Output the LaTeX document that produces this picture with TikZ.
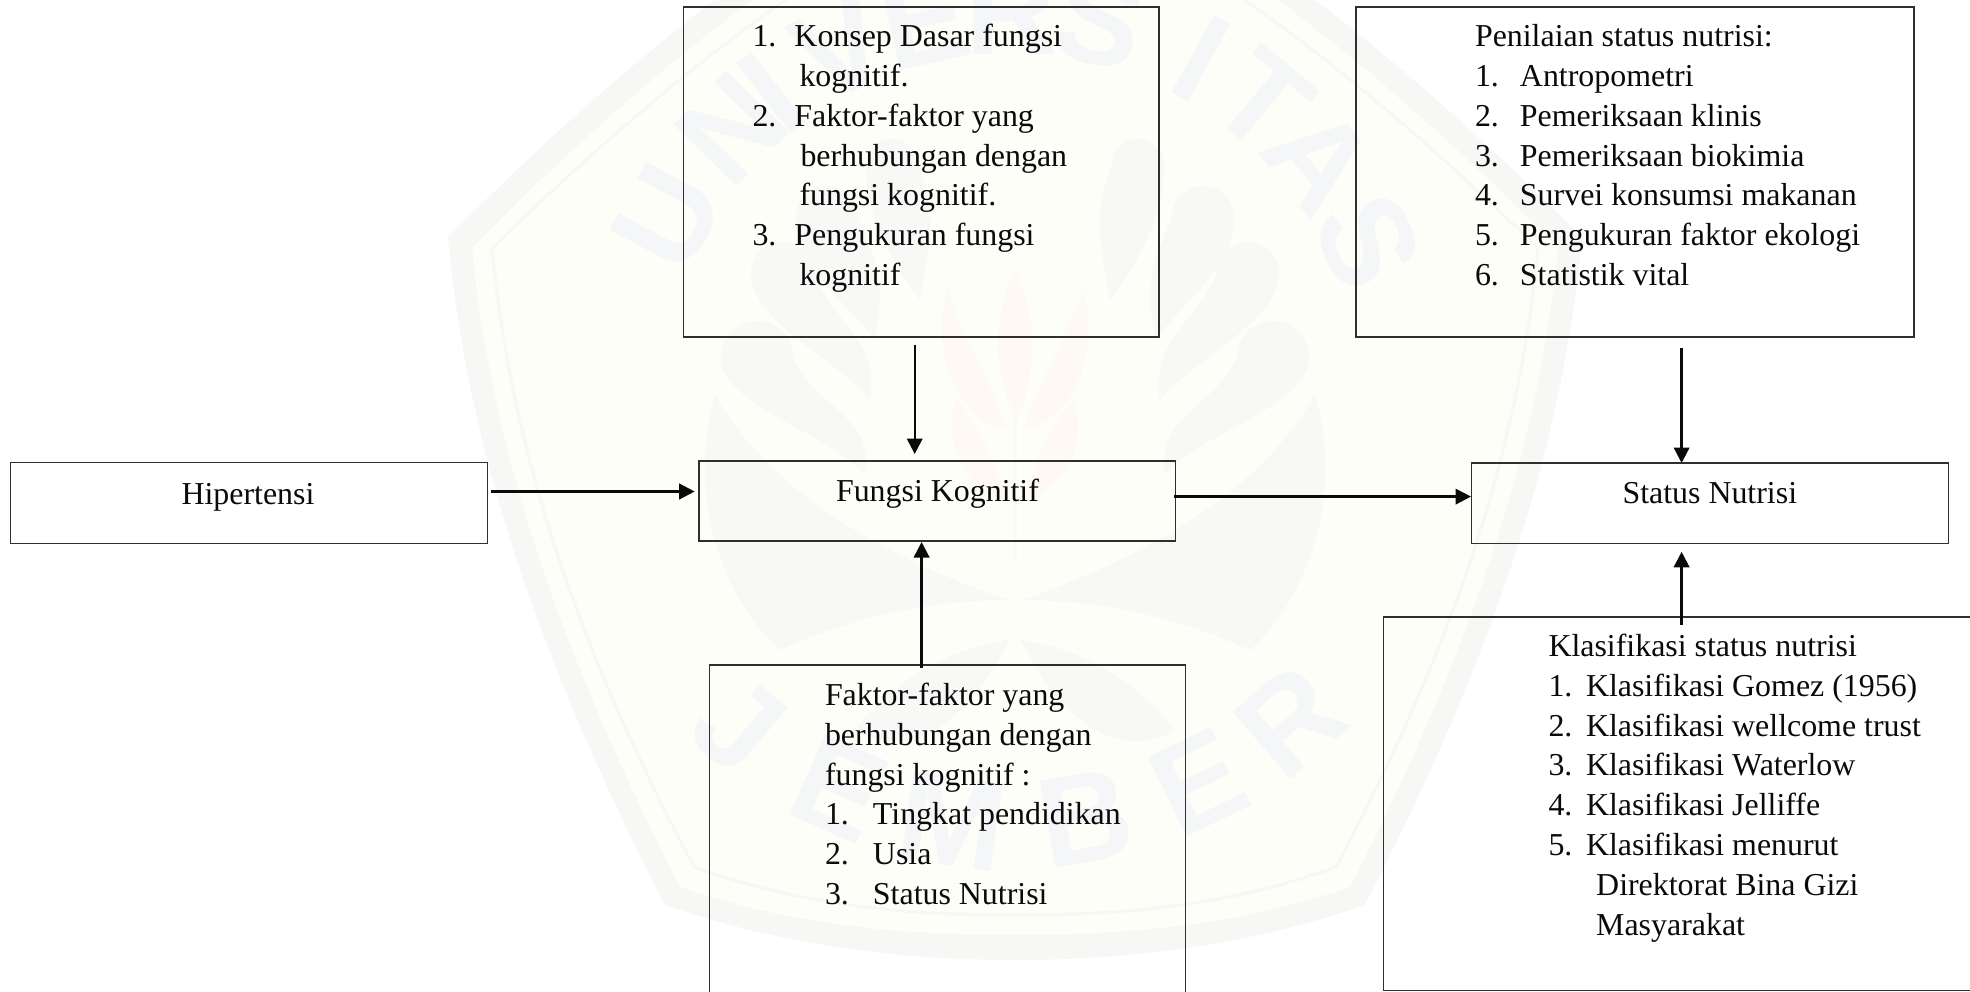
\documentclass[tikz,border=0pt]{standalone}
\usepackage{fontspec}
\setmainfont{Liberation Serif}
\newfontfamily\wmfont{Liberation Sans}
\usetikzlibrary{arrows.meta}
\definecolor{ink}{HTML}{0A0A0A}
\definecolor{shieldc}{HTML}{FDFEF8}
\definecolor{wmband}{HTML}{F7F8F6}
\definecolor{wmgrey}{HTML}{F5F6F7}
\definecolor{wmleaf}{HTML}{F8F9F7}
\definecolor{wmpink}{HTML}{FEF9F3}
\newcommand{\textsz}{\fontsize{31.9}{39.8}\selectfont}
\newcommand{\numb}[1]{\makebox[\numw][l]{#1}}
\newlength{\numw}
\tikzset{
  box/.style={draw=ink!85,line width=1.2pt,anchor=north west,inner sep=0pt,outer sep=0pt},
  lines/.style={anchor=base west,align=left,inner sep=0pt,outer sep=0pt,font=\textsz,text=ink},
  single/.style={anchor=base,inner sep=0pt,outer sep=0pt,font=\textsz,text=ink},
  arr/.style={draw=ink,line width=2.3pt,-{Triangle[length=15.5pt,width=15.5pt]}},
  wmletter/.style={text=wmgrey,inner sep=0pt,font=\wmfont\bfseries\fontsize{128}{130}\selectfont},
}
\begin{document}
\begin{tikzpicture}[x=1pt,y=-1pt]
\useasboundingbox (0,0) rectangle (1970,992);
\clip (0,0) rectangle (1970,992);
\fill[white] (0,0) rectangle (1970,992);
% watermark
\fill[wmband] (448,237) .. controls (600,85) and (800,-90) .. (1015,-180) .. controls (1230,-90) and (1430,85) .. (1582,237) .. controls (1560,480) and (1470,700) .. (1365,905) .. controls (1250,945) and (1130,960) .. (1015,960) .. controls (900,960) and (780,945) .. (665,905) .. controls (560,700) and (470,480) .. (448,237) -- cycle;
\fill[shieldc] (472,247) .. controls (625,95) and (810,-70) .. (1015,-150) .. controls (1220,-70) and (1405,95) .. (1558,247) .. controls (1536,480) and (1450,690) .. (1350,887) .. controls (1240,925) and (1130,935) .. (1015,935) .. controls (900,935) and (790,925) .. (680,887) .. controls (580,690) and (494,480) .. (472,247) -- cycle;
\draw[wmband,line width=3pt] (492,248) .. controls (640,105) and (820,-50) .. (1015,-125) .. controls (1210,-50) and (1390,105) .. (1538,248) .. controls (1516,480) and (1435,680) .. (1336,867) .. controls (1230,905) and (1130,915) .. (1015,915) .. controls (900,915) and (800,905) .. (694,867) .. controls (595,680) and (514,480) .. (492,248) -- cycle;
\foreach \a/\l [count=\i] in {-62/U,-46/N,-38/I,-26/V,-13/E,0/R,13/S,29/I,40/T,52/A,66/S}
  \node[wmletter,rotate=-\a] (wmt\i) at ({1012+390*sin(\a)},{400-390*cos(\a)}) {\l};
\foreach \a/\l [count=\i] in {-40/J,-24/E,-8/M,10/B,26/E,41/R}
  \node[wmletter,rotate=\a] (wmb\i) at ({1012+425*sin(\a)},{400+425*cos(\a)}) {\l};
% central plant
\draw[wmpink,line width=3pt] (1015,290) -- (1015,560);
\fill[wmpink] (1015,270) .. controls (1040,320) and (1035,380) .. (1017,420) .. controls (995,380) and (990,320) .. (1015,270) -- cycle;
\foreach \s in {1,-1}{
  \begin{scope}[shift={(1015,0)},xscale=\s]
    \fill[wmpink] (8,430) .. controls (25,380) and (50,340) .. (68,290) .. controls (85,350) and (60,420) .. (8,430) -- cycle;
    \fill[wmpink] (8,500) .. controls (25,450) and (40,420) .. (58,400) .. controls (75,440) and (50,490) .. (8,500) -- cycle;
    \foreach \hx/\hy/\tx/\ty/\r in {123/165/95/300/26, 188/217/140/340/31, 233/273/145/400/31, 258/357/150/475/36}{
      \fill[wmleaf] (\hx,\hy) circle[radius=\r];
      \fill[wmleaf] (\hx+\r,\hy) .. controls (\hx+\r,\hy+50) and (\tx+30,\ty-40) .. (\tx,\ty) .. controls (\tx-10,\ty-60) and (\hx-\r-20,\hy+50) .. (\hx-\r,\hy) -- cycle;
    }
    \fill[wmleaf] (8,600) .. controls (120,560) and (240,500) .. (300,395) .. controls (330,500) and (290,600) .. (235,650) .. controls (170,620) and (90,600) .. (8,600) -- cycle;
    \fill[wmleaf] (6,640) .. controls (70,650) and (120,680) .. (160,730) .. controls (110,760) and (50,730) .. (6,640) -- cycle;
  \end{scope}
}
% boxes
\node[box,minimum width=477pt,minimum height=80.6pt] (hip) at (10.4,462.7) {};
\node[box,minimum width=476.5pt,minimum height=80pt] (fk) at (699,461) {};
\node[box,minimum width=477pt,minimum height=80.5pt] (st) at (1471.4,463) {};
\node[box,minimum width=475.5pt,minimum height=330pt] (tm) at (683.5,7) {};
\node[box,minimum width=558pt,minimum height=330pt] (tr) at (1356,7) {};
\node[box,minimum width=476.4pt,minimum height=345pt] (bm) at (709.3,665) {};
\node[box,minimum width=640pt,minimum height=373.5pt] (br) at (1383.3,617) {};
% single labels
\node[single] (hipt) at (248,504) {Hipertensi};
\node[single] (fkt) at (937.5,501) {Fungsi Kognitif};
\node[single] (stt) at (1709.8,503.7) {Status Nutrisi};
% text blocks
\setlength{\numw}{42pt}
\node[lines] (tmt) at (752.5,285.5) {\numb{1.}Konsep Dasar fungsi\\
  \hspace*{47pt}kognitif.\\
  \numb{2.}Faktor-faktor yang\\
  \hspace*{48pt}berhubungan dengan\\
  \hspace*{47pt}fungsi kognitif.\\
  \numb{3.}Pengukuran fungsi\\
  \hspace*{47pt}kognitif};
\setlength{\numw}{45pt}
\node[lines] (trt) at (1475,285.5) {Penilaian status nutrisi:\\
  \numb{1.}Antropometri\\
  \numb{2.}Pemeriksaan klinis\\
  \numb{3.}Pemeriksaan biokimia\\
  \numb{4.}Survei konsumsi makanan\\
  \numb{5.}Pengukuran faktor ekologi\\
  \numb{6.}Statistik vital};
\setlength{\numw}{48pt}
\node[lines] (bmt) at (825,904.5) {Faktor-faktor yang\\
  berhubungan dengan\\
  fungsi kognitif :\\
  \numb{1.}Tingkat pendidikan\\
  \numb{2.}Usia\\
  \numb{3.}Status Nutrisi};
\setlength{\numw}{37.5pt}
\node[lines] (brt) at (1548.5,935) {Klasifikasi status nutrisi\\
  \numb{1.}Klasifikasi Gomez (1956)\\
  \numb{2.}Klasifikasi wellcome trust\\
  \numb{3.}Klasifikasi Waterlow\\
  \numb{4.}Klasifikasi Jelliffe\\
  \numb{5.}Klasifikasi menurut\\
  \hspace*{47.7pt}Direktorat Bina Gizi\\
  \hspace*{47.7pt}Masyarakat};
% connector guides
\coordinate (xa) at (914.7,0);
\coordinate (xb) at (921.6,0);
\coordinate (xc) at (1681.6,0);
\coordinate (ya) at (0,491.5);
\coordinate (yb) at (0,496.6);
% connectors
\draw[arr,shorten <=8pt,shorten >=7pt] (tm.south -| xa) -- (fk.north -| xa);
\draw[arr,shorten <=-3pt,shorten >=1pt] (bm.north -| xb) -- (fk.south -| xb);
\draw[arr,shorten <=3.5pt,shorten >=4.3pt] (hip.east |- ya) -- (fk.west |- ya);
\draw[arr,shorten <=-1.8pt,shorten >=0.4pt] (fk.east |- yb) -- (st.west |- yb);
\draw[arr,shorten <=11pt] (tr.south -| xc) -- (st.north -| xc);
\draw[arr,shorten <=-8pt,shorten >=8.3pt] (br.north -| xc) -- (st.south -| xc);
\end{tikzpicture}
\end{document}
